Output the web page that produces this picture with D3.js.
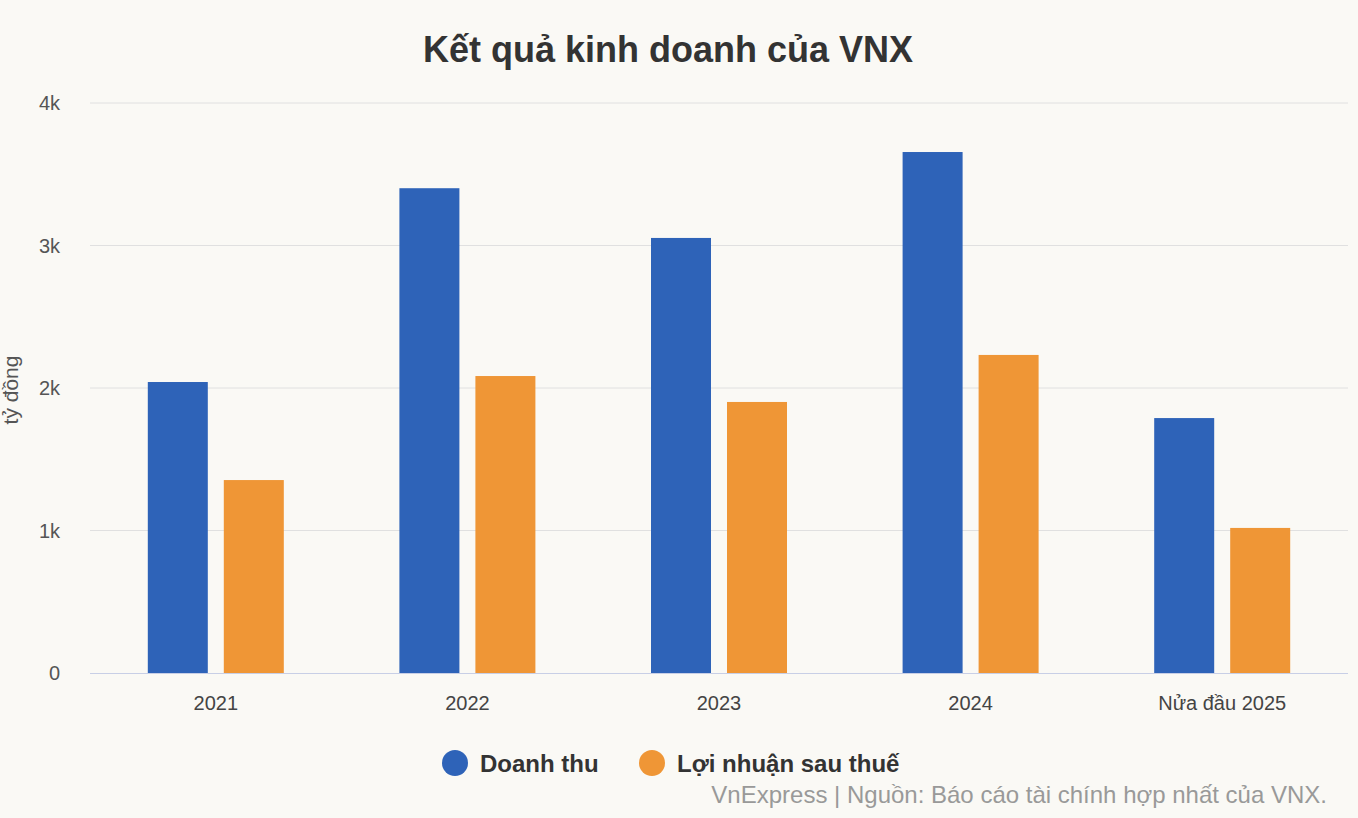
<!DOCTYPE html>
<html><head><meta charset="utf-8">
<script src="https://cdn.jsdelivr.net/npm/d3@7"></script>
<style>body{margin:0;background:#faf9f5;font-family:"Liberation Sans",Arial,sans-serif}</style>
</head><body><svg id="c" width="1358" height="818"></svg>
<script>
const categories=["2021","2022","2023","2024","Nửa đầu 2025"];
const seriesNames=["Doanh thu","Lợi nhuận sau thuế"];
const revenue=[2042,3402,3053,3656,1789];
const profit=[1354,2084,1902,2232,1018];
const yTicks=[0,1000,2000,3000,4000];
const colors=["#2e63b8","#ef9636"];
const svg=d3.select("#c");
svg.append("rect").attr("width",1358).attr("height",818).attr("fill","#faf9f5");
const L=90,R=1348,T=103,B=673;
const x=d3.scaleBand().domain(categories).range([L,R]);
const y=d3.scaleLinear().domain([0,4000]).range([B,T]);
svg.append("text").attr("x",668).attr("y",62).attr("text-anchor","middle").attr("font-size",36).attr("font-weight","bold").attr("fill","#333").text("Kết quả kinh doanh của VNX");
const g=svg.append("g");
yTicks.forEach(t=>{
 if(t>0) g.append("line").attr("x1",L).attr("x2",R).attr("y1",y(t)).attr("y2",y(t)).attr("stroke","#e0e0e0");
 g.append("text").attr("x",60).attr("y",y(t)+7).attr("text-anchor","end").attr("font-size",20).attr("fill","#555").text(t===0?"0":(t/1000)+"k");
});
g.append("line").attr("x1",L).attr("x2",R).attr("y1",B+0.5).attr("y2",B+0.5).attr("stroke","#c8cfe6");
svg.append("text").attr("transform","translate(18,390) rotate(-90)").attr("text-anchor","middle").attr("font-size",21).attr("fill","#555").text("tỷ đồng");
const bw=60,gap=16;
[revenue,profit].forEach((s,si)=>{
 svg.selectAll(null).data(s).enter().append("rect")
  .attr("x",(d,i)=>x(categories[i])+x.bandwidth()/2-bw-gap/2+si*(bw+gap))
  .attr("y",d=>y(d)).attr("width",bw).attr("height",d=>B-y(d)).attr("fill",colors[si]);
});
categories.forEach(c=>svg.append("text").attr("x",x(c)+x.bandwidth()/2).attr("y",710).attr("text-anchor","middle").attr("font-size",20).attr("fill","#444").text(c));
const lx=[455,652];
seriesNames.forEach((n,i)=>{
 svg.append("circle").attr("cx",lx[i]).attr("cy",763).attr("r",13).attr("fill",colors[i]);
 svg.append("text").attr("x",lx[i]+25).attr("y",772).attr("font-size",24).attr("font-weight","bold").attr("fill","#333").text(n);
});
svg.append("text").attr("x",1327).attr("y",803).attr("text-anchor","end").attr("font-size",24).attr("fill","#999").text("VnExpress | Nguồn: Báo cáo tài chính hợp nhất của VNX.");
</script></body></html>
